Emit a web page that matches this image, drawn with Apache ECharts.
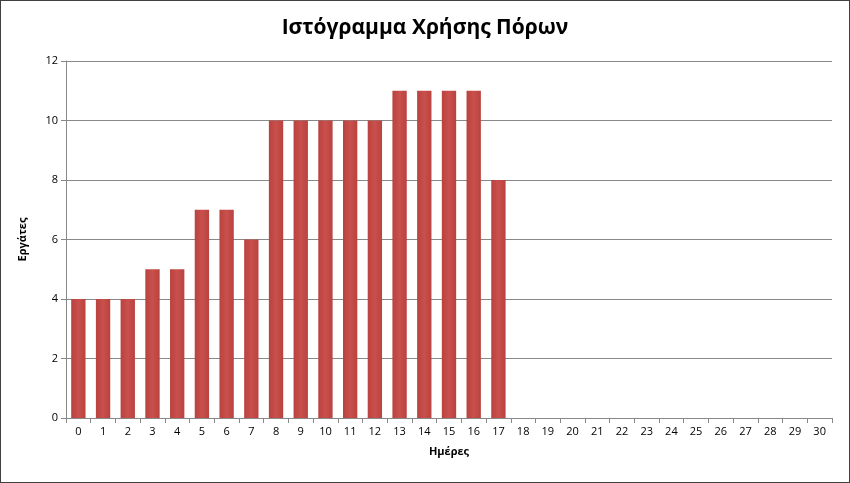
<!DOCTYPE html>
<html><head><meta charset="utf-8">
<script src="https://cdn.jsdelivr.net/npm/echarts@6/dist/echarts.min.js"></script>
<style>html,body{margin:0;padding:0;background:#fff}#c{width:850px;height:483px;box-sizing:border-box;border:1px solid #404040}</style>
</head><body><div id="c"></div>
<script>
const days = Array.from({length:31},(_,i)=>String(i));
const workers = [4,4,4,5,5,7,7,6,10,10,10,10,10,11,11,11,11,8,0,0,0,0,0,0,0,0,0,0,0,0,0];
const yTicks = {min:0,max:12,interval:2};
const chart = echarts.init(document.getElementById('c'));
chart.setOption({
  animation:false,
  title:{text:'Ιστόγραμμα Χρήσης Πόρων',left:'center',top:12,textStyle:{fontFamily:'Open Sans',fontSize:21,fontWeight:'bold',color:'#000'}},
  grid:{left:65,right:17,top:60,bottom:64},
  xAxis:{type:'category',data:days,name:'Ημέρες',nameLocation:'middle',nameGap:28,
    nameTextStyle:{fontFamily:'Open Sans',fontSize:11,fontWeight:'bold',color:'#000'},
    axisLine:{lineStyle:{color:'#888'}},axisTick:{show:true,alignWithLabel:false,lineStyle:{color:'#888'}},
    axisLabel:{interval:0,fontFamily:'Open Sans',fontSize:11,color:'#000'}},
  yAxis:{type:'value',min:yTicks.min,max:yTicks.max,interval:yTicks.interval,name:'Εργάτες',nameLocation:'middle',nameGap:38,
    nameTextStyle:{fontFamily:'Open Sans',fontSize:11,fontWeight:'bold',color:'#000'},
    axisLine:{show:true,lineStyle:{color:'#888'}},axisTick:{show:true,lineStyle:{color:'#888'}},
    splitLine:{lineStyle:{color:'#888'}},
    axisLabel:{fontFamily:'Open Sans',fontSize:11,color:'#000'}},
  series:[{type:'bar',data:workers,barCategoryGap:'42%',
    itemStyle:{color:new echarts.graphic.LinearGradient(0,0,1,0,[{offset:0,color:'#b9423f'},{offset:0.5,color:'#c9504c'},{offset:1,color:'#b9423f'}])}}]
});
</script></body></html>
